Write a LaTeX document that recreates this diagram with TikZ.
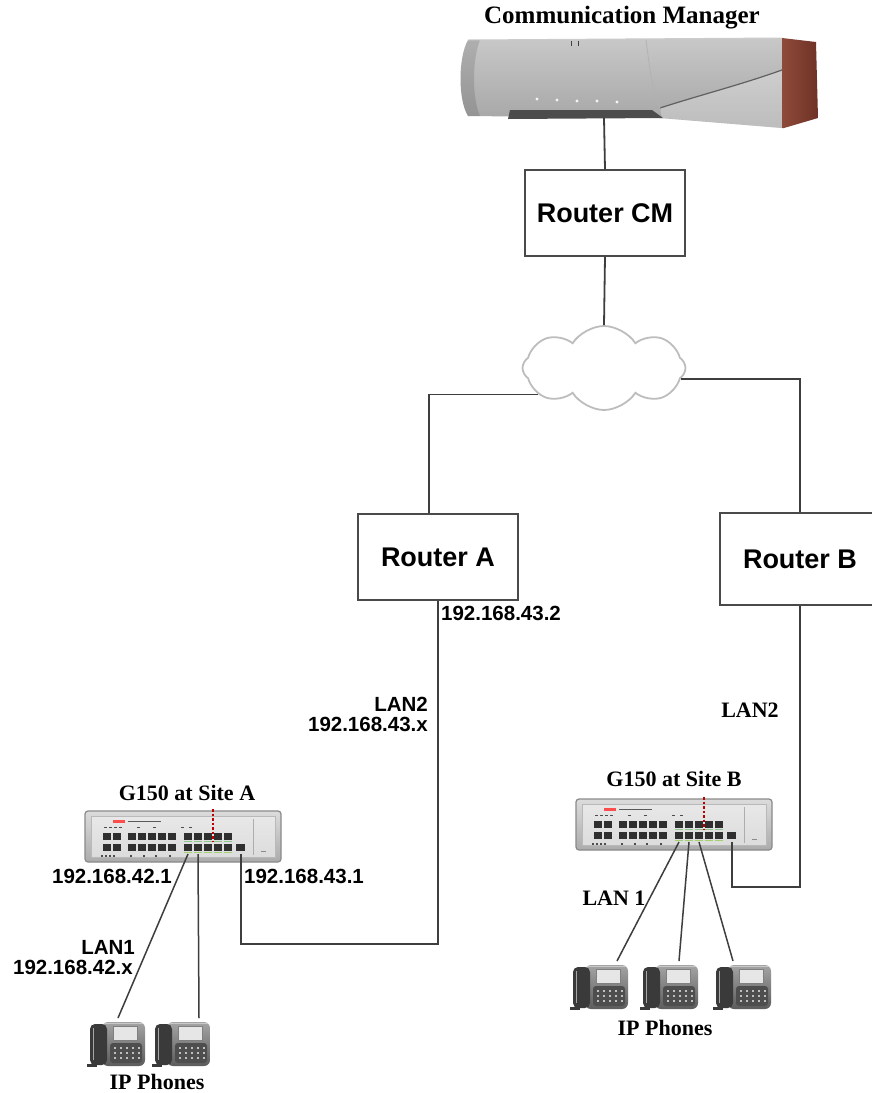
\documentclass[tikz,border=0pt]{standalone}
\usepackage{fontspec}
\setmainfont{Liberation Serif}
\newfontfamily\arialfont{Liberation Sans}
\usetikzlibrary{shapes.symbols,calc}

\definecolor{wire}{HTML}{3E3E3E}
\definecolor{boxline}{HTML}{4A4A4A}
\definecolor{cloudline}{HTML}{BDBDBD}
\definecolor{portdark}{HTML}{2F2F2F}
\definecolor{ledgreen}{HTML}{8CC68C}
\definecolor{cmred}{HTML}{6E3226}
\definecolor{cmredlight}{HTML}{8E4A3A}
\definecolor{cmtop}{HTML}{C8C8C8}
\definecolor{cmbot}{HTML}{A4A4A4}
\definecolor{cmslot}{HTML}{4C4C4C}
\definecolor{swtop}{HTML}{DCDCDC}
\definecolor{swbot}{HTML}{ABABAB}
\definecolor{swedge}{HTML}{8A8A8A}
\definecolor{swpanel}{HTML}{E8E8E8}
\definecolor{phlight}{HTML}{A4A4A4}
\definecolor{phdark}{HTML}{5C5C5C}
\definecolor{handset}{HTML}{3A3A3A}
\definecolor{phscreen}{HTML}{E6E6E6}

\tikzset{
  wire/.style={draw=wire, line width=1.8pt},
  phonewire/.style={draw=wire, line width=1.5pt},
  routerbox/.style={draw=boxline, line width=1.8pt, fill=white,
    minimum width=160pt, minimum height=86pt,
    font=\arialfont\bfseries\fontsize{27}{30}\selectfont},
  seriflabel/.style={font=\bfseries\fontsize{22}{24}\selectfont, inner sep=0pt},
  addrlabel/.style={font=\arialfont\bfseries\fontsize{20.5}{22}\selectfont, inner sep=0pt},
  % G150 branch gateway front panel
  gswitch/.pic={
    \shade[top color=swtop, bottom color=swbot, draw=swedge, line width=1.2pt,
      rounded corners=3pt] (0,0) rectangle (196,51);
    \shade[top color=swpanel, bottom color=swtop, draw=swedge!60, line width=0.6pt]
      (6,5) rectangle (190,46);
    \draw[swedge!70, line width=0.6pt] (168,8) -- (168,44);
    \draw[swedge, line width=0.8pt] (176,40) -- (181,40);
    % badge and tiny print
    \fill[red!70] (28,8.5) rectangle (40,12);
    \draw[gray!70!black, line width=0.9pt] (43,10.3) -- (76,10.3);
    \foreach \tx in {19,24,29,34,52,68,96,104}
      \fill[gray!60!black] (\tx,15.5) rectangle (\tx+2.5,17);
    \foreach \tx in {16,20,24,28,45,58,70,84}
      \fill[gray!60!black] (\tx,44) rectangle (\tx+2,45.5);
    % ports
    \foreach \px in {22,32,47,57,67,77,87,103,113,123,133,143} {
      \fill[portdark] (\px-4,22) rectangle (\px+4,29);
      \fill[portdark] (\px-4,33) rectangle (\px+4,40);
    }
    \foreach \px in {103,113,123,133,143} {
      \draw[ledgreen, line width=1pt] (\px-4,30.6) -- (\px+4,30.6);
      \draw[ledgreen!80!yellow, line width=0.8pt] (\px-4,41.3) -- (\px+4,41.3);
    }
    \fill[portdark] (151,33) rectangle (160,40);
    \draw[red!75!black, line width=1.5pt, dash pattern=on 2.5pt off 2pt] (128,-2) -- (128,30);
    \coordinate (-p1) at (103,43);
    \coordinate (-p2) at (113,43);
    \coordinate (-p3) at (123,43);
    \coordinate (-sp) at (156,43);
  },
  % desk IP telephone
  ipphone/.pic={
    \shade[top color=phlight, bottom color=phdark, rounded corners=6pt]
      (12,0) rectangle (55,44);
    \draw[phlight!60!white, line width=1pt, rounded corners=5pt] (14,1) -- (53,1);
    \fill[phdark!85!black, rounded corners=3pt] (20,21) rectangle (52,41);
    \foreach \kx in {24,30,36,42,48}
      \foreach \ky in {25,30,35}
        \fill[phlight!70] (\kx,\ky) rectangle (\kx+2,\ky+1.5);
    \fill[phscreen] (23,4) rectangle (47,18);
    \draw[gray, line width=0.5pt] (23,4) rectangle (47,18);
    \fill[handset, rounded corners=5pt] (0,2) rectangle (17,43);
    \draw[gray!70, line width=0.8pt] (3,6) -- (3,38);
    \fill[handset] (-3,42) rectangle (7,45);
    \coordinate (-a) at (17,-4);
    \coordinate (-b) at (28,-4);
    \coordinate (-c) at (36,-4);
    \coordinate (-d) at (44,-4);
  }
}

\begin{document}
\begin{tikzpicture}[x=1pt, y=-1pt]
  \useasboundingbox (0,0) rectangle (872,1093);
  \clip (0,0) rectangle (872,1093);
  \fill[white] (0,0) rectangle (872,1093);

  % ---------------- Communication Manager server ----------------
  \node[font=\bfseries\fontsize{25}{28}\selectfont, inner sep=0pt] (cmtitle) at (622,18) {Communication Manager};
  \shade[top color=cmtop, bottom color=cmbot]
    (468,40) .. controls (458,58) and (458,100) .. (468,116) -- (660,118) -- (782,128) -- (782,38) -- cycle;
  \fill[black, opacity=.12]
    (468,40) .. controls (458,58) and (458,100) .. (468,116) -- (480,116)
    .. controls (472,98) and (472,60) .. (480,40) -- cycle;
  \fill[white, opacity=.28] (660,108) .. controls (700,95) and (740,85) .. (782,70) -- (782,128) -- (662,118) -- cycle;
  \fill[cmslot] (510,110) -- (652,110) -- (663,118) -- (508,119) -- cycle;
  \draw[gray!75!black, line width=1.2pt] (782,70) .. controls (740,85) and (700,95) .. (660,108);
  \draw[gray!60, line width=0.8pt] (646,40) .. controls (650,70) and (652,90) .. (660,108);
  \draw[gray!40, line width=1pt] (468,40) -- (782,38);
  \draw[gray!50!black, line width=1pt] (571,41) -- (571,46) (578,41) -- (578,46);
  \foreach \lx/\ly in {537/99, 557/100, 577/101, 597/101, 617/102}
    \fill[gray!8] (\lx,\ly) circle (1.6pt);
  \shade[left color=cmredlight, right color=cmred]
    (782,38) -- (816,42) -- (818,118) -- (784,128) -- (782,128) -- cycle;
  \coordinate (cmbase) at (604,118);

  % ---------------- routers and WAN ----------------
  \node[routerbox] (rCM) at (605,213) {Router CM};
  \node[cloud, cloud puffs=8, cloud puff arc=115, aspect=2, draw=cloudline,
        line width=1.8pt, fill=white, minimum width=163pt, minimum height=84pt]
        (cloud) at (604,368) {};
  \node[routerbox] (rA) at (438,557) {Router A};
  \node[routerbox, minimum height=92pt] (rB) at (800,559) {Router B};

  \draw[wire] (cmbase) -- (rCM.north);
  \draw[wire] (rCM.south) -- (cloud.north);
  \draw[wire] ([xshift=-9pt]rA.north) |- (cloud.202);
  \draw[wire] (rB.north) |- (cloud.352);

  % ---------------- Site A ----------------
  \node[seriflabel] (gA) at (187,793) {G150 at Site A};
  \pic (swA) at (85,811) {gswitch};
  \pic (phA1) at (90,1022) {ipphone};
  \pic (phA2) at (155,1022) {ipphone};
  \node[seriflabel] (ipA) at (157,1082) {IP Phones};

  \draw[wire] (swA-sp) -- ++(0,90) -| (rA.south);
  \draw[phonewire] (swA-p1) -- (phA1-b);
  \draw[phonewire] (swA-p2) -- (phA2-d);

  \node[addrlabel, anchor=west] (ra2) at (441,613) {192.168.43.2};
  \node[addrlabel, anchor=east] (lan2a) at (428,704) {LAN2};
  \node[addrlabel, anchor=east] (net43) at (428,724) {192.168.43.x};
  \node[addrlabel, anchor=east] (ip421) at (172,876) {192.168.42.1};
  \node[addrlabel, anchor=west] (ip431) at (244,876) {192.168.43.1};
  \node[addrlabel, anchor=east] (lan1a) at (135,947) {LAN1};
  \node[addrlabel, anchor=east] (net42) at (133,967) {192.168.42.x};

  % ---------------- Site B ----------------
  \node[seriflabel] (gB) at (674,779) {G150 at Site B};
  \pic (swB) at (576,799) {gswitch};
  \pic (phB1) at (573,965) {ipphone};
  \pic (phB2) at (643,965) {ipphone};
  \pic (phB3) at (716,965) {ipphone};
  \node[seriflabel] (ipB) at (665,1028) {IP Phones};

  \draw[wire] (swB-sp) -- ++(0,45) -| (rB.south);
  \draw[phonewire] (swB-p1) -- (phB1-d);
  \draw[phonewire] (swB-p2) -- (phB2-c);
  \draw[phonewire] (swB-p3) -- (phB3-a);

  \node[seriflabel] (lan2b) at (750,710) {LAN2};
  \node[seriflabel] (lan1b) at (614,898) {LAN 1};
\end{tikzpicture}
\end{document}
